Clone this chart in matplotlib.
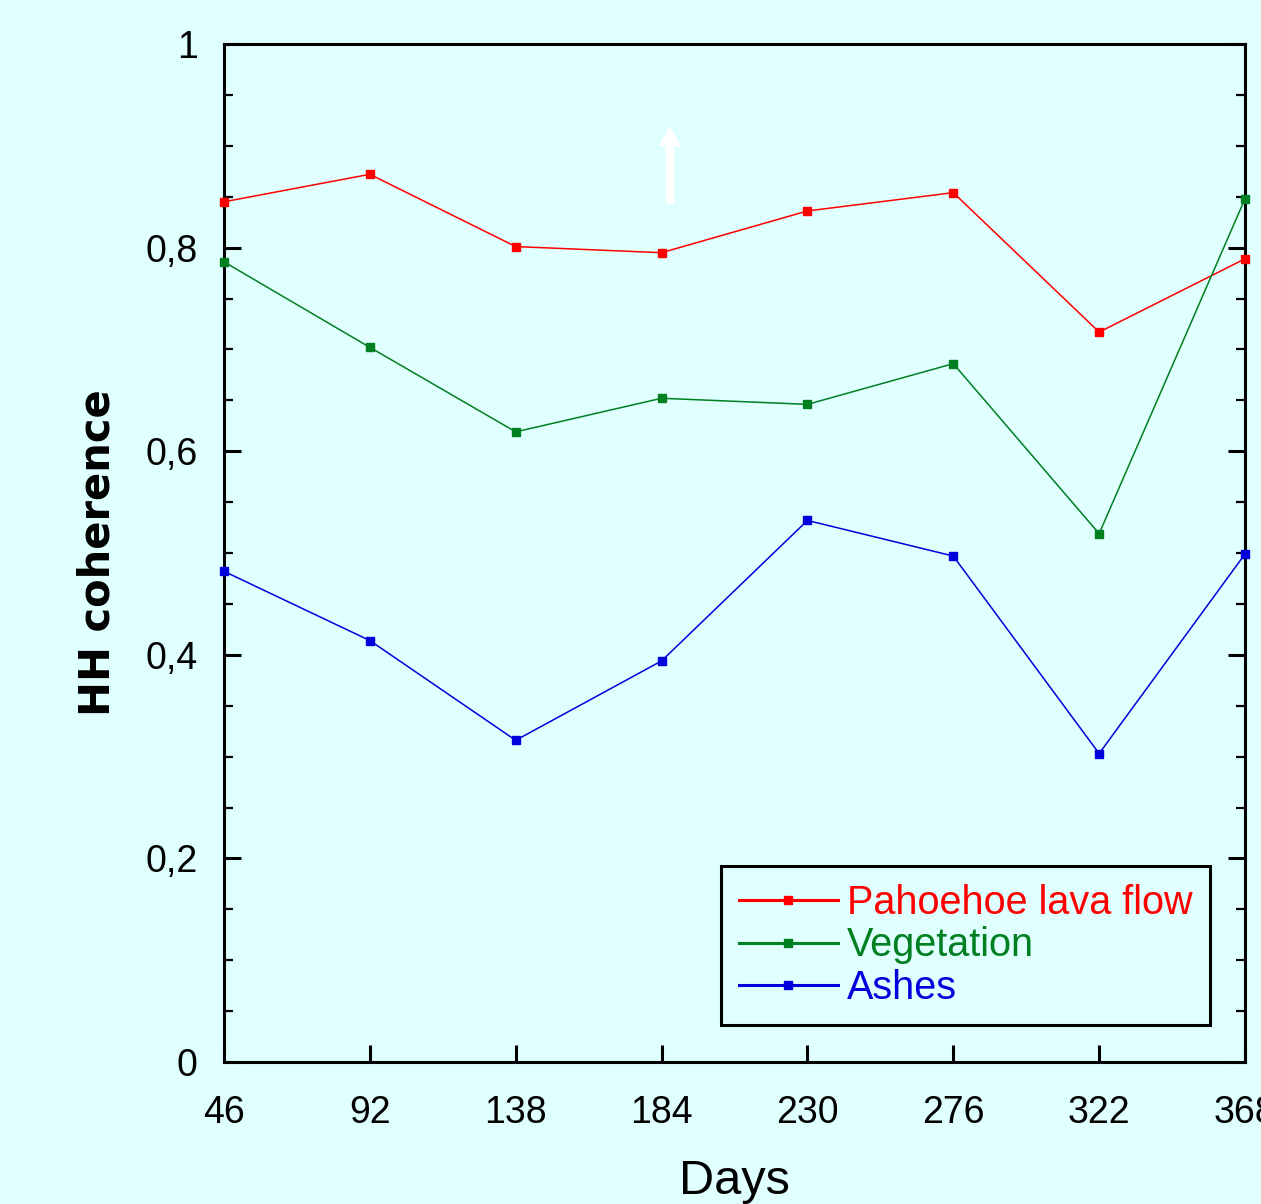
import matplotlib
matplotlib.use("Agg")
import matplotlib.pyplot as plt
from matplotlib.ticker import MultipleLocator, FuncFormatter

# data
days = [46, 92, 138, 184, 230, 276, 322, 368]
pahoehoe = [0.845, 0.872, 0.801, 0.795, 0.836, 0.854, 0.717, 0.789]
vegetation = [0.786, 0.702, 0.619, 0.652, 0.646, 0.686, 0.519, 0.848]
ashes = [0.482, 0.414, 0.316, 0.394, 0.532, 0.497, 0.303, 0.499]
labels = ['Pahoehoe lava flow', 'Vegetation', 'Ashes']
colors = ['#ff0000', '#008020', '#0000dd']

# white arrow drawn on the plot
arrow_x = 186.6
arrow_from, arrow_to = 0.844, 0.918

bg = '#e0ffff'
plt.rcParams['font.family'] = ['Liberation Sans', 'DejaVu Sans']

fig = plt.figure(figsize=(12.61, 12.04), dpi=100, facecolor=bg)
ax = fig.add_axes([224 / 1261, 1 - 1062 / 1204, 1021 / 1261, 1018 / 1204])
ax.set_facecolor(bg)

for series, lab, col in zip([pahoehoe, vegetation, ashes], labels, colors):
    ax.plot(days, series, color=col, lw=1.1, marker='s', markersize=5.5,
            label=lab, clip_on=False, zorder=3)

ax.annotate('', xy=(arrow_x, arrow_to), xytext=(arrow_x, arrow_from),
            arrowprops=dict(arrowstyle='simple,head_length=1.3,head_width=1.45,tail_width=0.5',
                            color='white', mutation_scale=10, shrinkA=0, shrinkB=0))

ax.set_xlim(46, 368)
ax.set_ylim(0, 1)
ax.set_xticks(days)
ax.yaxis.set_major_locator(MultipleLocator(0.2))
ax.yaxis.set_minor_locator(MultipleLocator(0.05))


def fmt(v, pos):
    if abs(v) < 1e-9:
        return '0'
    if abs(v - 1) < 1e-9:
        return '1'
    return f'{v:.1f}'.replace('.', ',')


ax.yaxis.set_major_formatter(FuncFormatter(fmt))

ax.tick_params(axis='both', which='major', direction='in', length=12, width=2.2,
               labelsize=27, pad=19)
ax.tick_params(axis='x', which='major', pad=24)
ax.tick_params(axis='y', which='minor', direction='in', length=6.5, width=1.6)
ax.tick_params(axis='y', which='both', right=True)
ax.tick_params(axis='x', which='both', top=False)

for sp in ax.spines.values():
    sp.set_linewidth(2.2)

ax.set_xlabel('Days', fontsize=35, labelpad=20)
ax.set_ylabel('HH coherence', fontsize=30, fontweight='bold',
              family='DejaVu Sans', labelpad=19)

leg = ax.legend(loc='lower right', bbox_to_anchor=(0.9657, 0.0363), fontsize=28.5,
                numpoints=1, handlelength=2.5, handletextpad=0.22, labelspacing=0.12,
                borderpad=0.45, borderaxespad=0, fancybox=False, framealpha=1,
                facecolor=bg, edgecolor='black', labelcolor='linecolor')
leg.get_frame().set_linewidth(2.2)
for h in leg.get_lines():
    h.set_linewidth(2.2)

fig.savefig('out.png', dpi=100, facecolor=bg)
